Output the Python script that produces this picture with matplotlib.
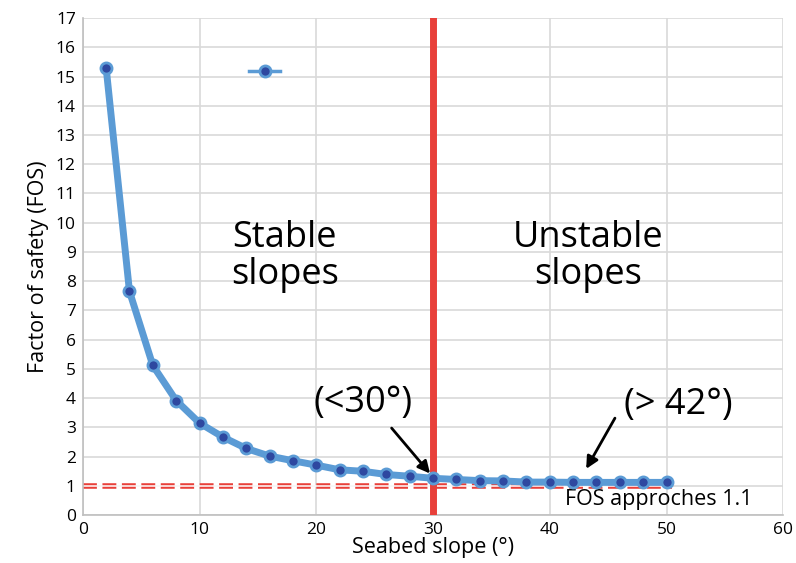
import matplotlib
matplotlib.use("Agg")

import matplotlib.pyplot as plt
from matplotlib.lines import Line2D

plt.rcParams['font.family'] = ['Open Sans', 'DejaVu Sans']

# Data
slope = [2, 4, 6, 8, 10, 12, 14, 16, 18, 20, 22, 24, 26, 28, 30,
         32, 34, 36, 38, 40, 42, 44, 46, 48, 50]
fos = [15.3, 7.65, 5.12, 3.92, 3.15, 2.67, 2.28, 2.02, 1.86, 1.71, 1.55, 1.5, 1.39, 1.33, 1.26,
       1.22, 1.18, 1.17, 1.13, 1.13, 1.12, 1.12, 1.12, 1.12, 1.12]
critical_slope = 30
fos_limit = 1.0
limit_x = [0, 50.5]

fig = plt.figure(figsize=(7.96, 5.63), dpi=100)
ax = fig.add_axes([0.104, 0.085, 0.88, 0.883])

# Threshold lines
ax.plot(limit_x, [fos_limit, fos_limit], color="#E8403A", lw=4, ls=(0, (2.5, 1)), zorder=2)
ax.plot(limit_x, [fos_limit, fos_limit], color="white", lw=1.1, zorder=2.1)
ax.plot([critical_slope, critical_slope], [0, 17], color="#E8403A", lw=5, zorder=3)

# FOS curve
ax.plot(slope, fos, color="#5B9BD5", lw=5, marker="o", ms=8,
        mfc="#2E48A0", mec="#5B9BD5", mew=2, zorder=4, solid_capstyle="round")

ax.set_xlim(0, 60)
ax.set_ylim(0, 17)
ax.set_xticks(range(0, 61, 10))
ax.set_yticks(range(0, 18))
ax.tick_params(labelsize=12.5, length=0, pad=5)
ax.grid(True, color="#D9D9D9", lw=1.2)
ax.set_axisbelow(True)
for s in ["top", "right"]:
    ax.spines[s].set_visible(False)
for s in ["left", "bottom"]:
    ax.spines[s].set_color("#BFBFBF")
    ax.spines[s].set_linewidth(1.2)

ax.set_xlabel("Seabed slope (°)", fontsize=15.5, labelpad=-1)
ax.set_ylabel("Factor of safety (FOS)", fontsize=15.5, labelpad=5)

# Legend with no label text
handle = Line2D([], [], color="#5B9BD5", lw=2.5, marker="o", ms=8,
                mfc="#2E48A0", mec="#5B9BD5", mew=2)
leg = ax.legend([handle], [""], loc="upper left", bbox_to_anchor=(0.22, 0.93),
                frameon=False, handlelength=2.2)

# Annotations
ax.text(17.3, 8.85, "Stable\nslopes", fontsize=26, ha="center", va="center", linespacing=1.05)
ax.text(43.3, 8.85, "Unstable\nslopes", fontsize=26, ha="center", va="center", linespacing=1.05)
ax.text(24.0, 3.85, "(<30°)", fontsize=26, ha="center", va="center")
ax.text(51.0, 3.75, "(> 42°)", fontsize=26, ha="center", va="center")
ax.annotate("", xy=(29.9, 1.35), xytext=(26.3, 3.05),
            arrowprops=dict(arrowstyle="-|>", color="black", lw=2, mutation_scale=18))
ax.annotate("", xy=(43.0, 1.5), xytext=(45.7, 3.4),
            arrowprops=dict(arrowstyle="-|>", color="black", lw=2, mutation_scale=18))
ax.text(49.3, 0.55, "FOS approches 1.1", fontsize=15.5, ha="center", va="center")

plt.savefig("out.png", dpi=100)
plt.close()
